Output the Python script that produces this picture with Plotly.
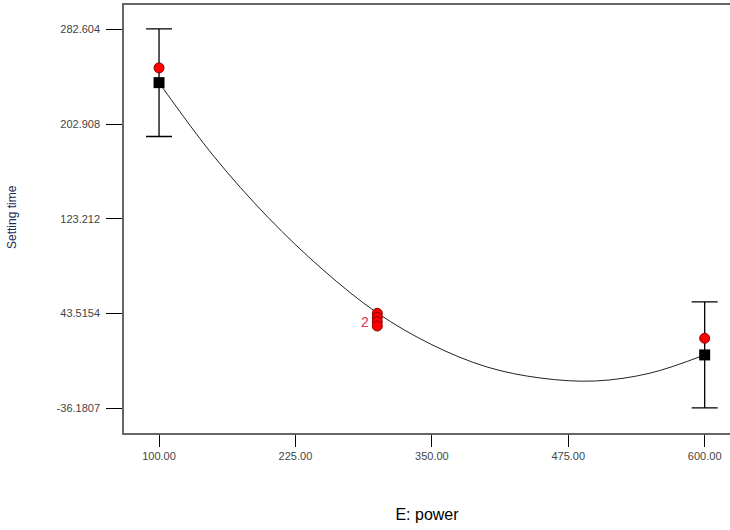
import plotly.graph_objects as go

# Data
design_x = [100, 600]
predicted_y = [237.7, 8.7]
ci_half = [45.3, 44.6]

actual_x = [100, 300, 300, 300, 300, 600]
actual_y = [250.1, 43.7, 40.4, 36.7, 33.0, 22.7]

curve_x = [100, 150, 200, 250, 300, 350, 400, 450, 500, 550, 600]
curve_y = [237.7, 176.0, 124.3, 80.5, 44.0, 17.3, -1.3, -10.8, -13.2, -6.6, 8.7]

x_ticks = [100, 225, 350, 475, 600]
x_tick_text = ["100.00", "225.00", "350.00", "475.00", "600.00"]
y_ticks = [282.604, 202.908, 123.212, 43.5154, -36.1807]
y_tick_text = ["282.604", "202.908", "123.212", "43.5154", "-36.1807"]

dup_label_x = 300
dup_label_y = 36.7
dup_label = "2"

FONT = "Arial, Liberation Sans, sans-serif"

fig = go.Figure()

fig.add_trace(go.Scatter(
    x=curve_x, y=curve_y, mode="lines",
    line=dict(color="#222222", width=1, shape="spline", smoothing=1.0),
    hoverinfo="skip"))

fig.add_trace(go.Scatter(
    x=design_x, y=predicted_y, mode="markers",
    marker=dict(symbol="square", size=11, color="black"),
    error_y=dict(type="data", array=ci_half, visible=True, color="black", thickness=1.3, width=13)))

fig.add_trace(go.Scatter(
    x=actual_x, y=actual_y, mode="markers",
    marker=dict(symbol="circle", size=10, color="#ff0000", line=dict(color="#8b0000", width=1))))

fig.add_annotation(x=dup_label_x, y=dup_label_y, xref="x", yref="y", text=dup_label,
                   showarrow=False, xanchor="right", xshift=-6,
                   font=dict(family=FONT, size=14, color="#e0304a"))

fig.add_annotation(x=(3 - 124) / 606, y=(433 - 217) / 428, xref="paper", yref="paper",
                   text="Setting time", textangle=-90, showarrow=False,
                   xanchor="left", yanchor="middle",
                   font=dict(family=FONT, size=12, color="#1a2a5a"))

fig.update_layout(
    width=730, height=530,
    margin=dict(l=124, r=0, t=5, b=97),
    paper_bgcolor="white", plot_bgcolor="white",
    showlegend=False,
    font=dict(family=FONT, size=11, color="#444444"),
    xaxis=dict(range=[67.9, 623.2], tickvals=x_ticks, ticktext=x_tick_text,
               ticks="outside", ticklen=12, tickcolor="black", tickwidth=1,
               showline=True, linecolor="#666666", linewidth=2, mirror=True,
               showgrid=False, zeroline=False,
               tickfont=dict(family=FONT, size=11, color="#444444"),
               title=dict(text="E: power", font=dict(family=FONT, size=16, color="black"), standoff=48)),
    yaxis=dict(range=[-56.96, 303.0], tickvals=y_ticks, ticktext=y_tick_text,
               ticks="outside", ticklen=16, tickcolor="black", tickwidth=1,
               showline=True, linecolor="#666666", linewidth=1.5, mirror=False,
               showgrid=False, zeroline=False, ticklabelstandoff=4,
               tickfont=dict(family=FONT, size=11, color="#444444")),
)

fig.write_html("out.html")
